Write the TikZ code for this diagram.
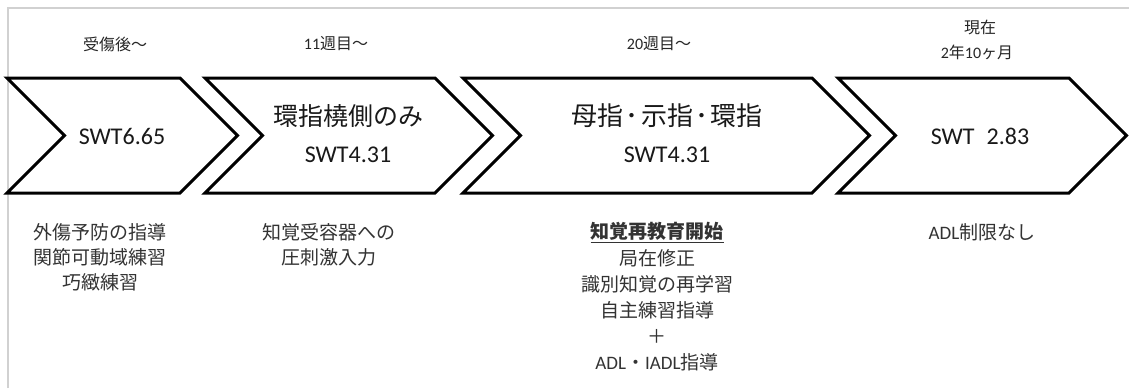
\documentclass[tikz,border=0pt]{standalone}
\usepackage{fontspec}
\setmainfont{Carlito}
\newfontfamily\jp{Noto Sans CJK JP}
\begin{document}
\begin{tikzpicture}[x=1pt,y=-1pt,
  chev/.style={draw=black,line width=3pt,line join=miter,fill=white},
  frameline/.style={draw=black!18,line width=2pt},
  toplab/.style={inner sep=0pt,font=\fontsize{16}{20}\selectfont,text=black!85},
  swt/.style={inner sep=0pt,font=\fontsize{24}{28}\selectfont,text=black!90},
  lowtxt/.style={inner sep=0pt,anchor=north,align=center,font=\jp\fontsize{19}{25}\selectfont,text=black!80},
]
\useasboundingbox (0,0) rectangle (1129,388);
\fill[white] (0,0) rectangle (1129,388);
\draw[frameline] (8,388) -- (8,8) -- (1129,8);

% chevrons
\draw[chev] (7,78) -- (180,78) -- (237.5,135.5) -- (180,193) -- (7,193) -- (64.5,135.5) -- cycle;
\draw[chev] (205,78) -- (435,78) -- (492.5,135.5) -- (435,193) -- (205,193) -- (262.5,135.5) -- cycle;
\draw[chev] (463,78) -- (812,78) -- (869.5,135.5) -- (812,193) -- (463,193) -- (520.5,135.5) -- cycle;
\draw[chev] (838,78) -- (1069,78) -- (1126.5,135.5) -- (1069,193) -- (838,193) -- (895.5,135.5) -- cycle;

% top labels
\node[toplab] (t1) at (115,44) {\jp 受傷後〜};
\node[toplab] (t2) at (336,44) {11{\jp 週目〜}};
\node[toplab] (t3) at (659,44) {20{\jp 週目〜}};
\node[toplab] (t4a) at (980,27) {\jp 現在};
\node[toplab] (t4b) at (977,52) {2{\jp 年}10{\jp ヶ月}};

% chevron texts
\node[swt] (c1) at (122,136) {SWT6.65};
\node[swt,font=\fontsize{25}{28}\selectfont] (c2a) at (348,116) {\jp 環指橈側のみ};
\node[swt] (c2b) at (348,155) {SWT4.31};
\node[swt,font=\fontsize{26}{28}\selectfont] (c3a) at (667,116) {\jp 母指\hspace{2.5pt}･\hspace{2.5pt}示指\hspace{2.5pt}･\hspace{2.5pt}環指};
\node[swt] (c3b) at (667,155) {SWT4.31};
\node[swt] (c4) at (980,136) {SWT\hspace{12pt}2.83};

% lower texts
\node[lowtxt] (b1) at (100,223.5) {外傷予防の指導\\関節可動域練習\\巧緻練習};
\node[lowtxt] (b2) at (329,223.5) {知覚受容器への\\圧刺激入力};
\node[lowtxt,font=\jp\fontsize{19}{26.2}\selectfont] (b3) at (657,222.5)
  {{\bfseries\underline{知覚再教育開始}}\\局在修正\\識別知覚の再学習\\自主練習指導\\＋\\{\rmfamily ADL}・{\rmfamily IADL}指導};
\node[lowtxt] (b4) at (982,223.5) {{\rmfamily ADL}制限なし};
\end{tikzpicture}
\end{document}
